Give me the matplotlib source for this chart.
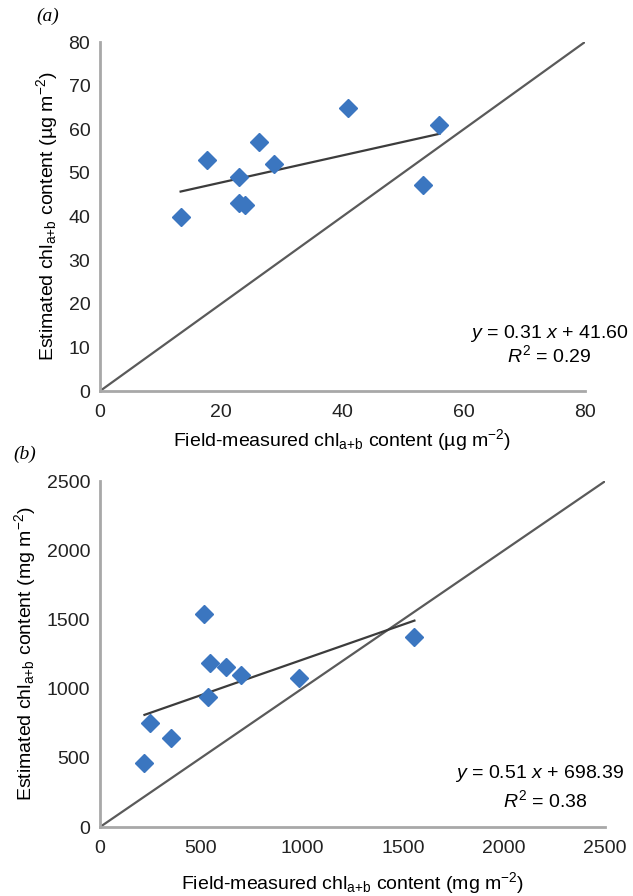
import matplotlib
matplotlib.use('Agg')
import matplotlib.pyplot as plt
import numpy as np

plt.rcParams['font.family'] = ['Liberation Sans', 'DejaVu Sans']
plt.rcParams['mathtext.fontset'] = 'custom'
plt.rcParams['mathtext.rm'] = 'Liberation Sans'
plt.rcParams['mathtext.it'] = 'Liberation Sans:italic'
plt.rcParams['font.size'] = 14

# Panel (a): chl a+b content in ug m-2
field_a = [13.3, 17.7, 22.9, 22.9, 24.0, 26.3, 28.7, 40.9, 53.3, 56.0]
est_a = [39.8, 53.0, 49.0, 43.0, 42.6, 57.0, 52.1, 64.9, 47.3, 60.9]
slope_a, icpt_a = 0.31, 41.60
r2_a = 0.29

# Panel (b): chl a+b content in mg m-2
field_b = [220, 246, 352, 516, 532, 544, 622, 696, 986, 1556]
est_b = [462, 754, 641, 1538, 938, 1184, 1156, 1100, 1077, 1371]
slope_b, icpt_b = 0.51, 698.39
r2_b = 0.38

blue = '#3b76c0'
line_col = '#5a5a5a'
spine_col = '#a8a8a8'

fig = plt.figure(figsize=(6.33, 8.96), dpi=100)
ax1 = fig.add_axes([0.158, 0.5636, 0.766, 0.3895])
ax2 = fig.add_axes([0.158, 0.077, 0.798, 0.386])


def style(ax, lim, ticks_x, ticks_y):
    ax.set_xlim(0, lim)
    ax.set_ylim(0, lim)
    ax.set_xticks(ticks_x)
    ax.set_yticks(ticks_y)
    for s in ['top', 'right']:
        ax.spines[s].set_visible(False)
    for s in ['left', 'bottom']:
        ax.spines[s].set_color(spine_col)
        ax.spines[s].set_linewidth(2)
    ax.tick_params(length=0, labelsize=14, colors='#222222')
    ax.tick_params(axis='y', pad=7)
    ax.tick_params(axis='x', pad=9)


def draw(ax, fx, ey, slope, icpt, lim):
    ax.plot([0, lim], [0, lim], color=line_col, lw=1.6, zorder=2)
    xs = np.array([min(fx), max(fx)])
    ax.plot(xs, slope * xs + icpt, color='#3c3c3c', lw=1.6, zorder=3)
    ax.plot(fx, ey, linestyle='none', marker='D', ms=9, color=blue,
            markeredgecolor=blue, zorder=4)


sub = r'chl$_{\mathrm{a{+}b}}$'

# (a)
style(ax1, 80, np.arange(0, 81, 20), np.arange(0, 81, 10))
draw(ax1, field_a, est_a, slope_a, icpt_a, 80)
ax1.set_xlabel('Field-measured ' + sub + r' content (µg m$^{-2}$)', labelpad=5)
ax1.set_ylabel('Estimated ' + sub + r' content (µg m$^{-2}$)', labelpad=6)
ax1.text(0.926, 0.165, r'$y$ = %.2f $x$ + %.2f' % (slope_a, icpt_a),
         transform=ax1.transAxes, ha='center', va='center', fontsize=14)
ax1.text(0.926, 0.102, r'$R^2$ = %.2f' % r2_a,
         transform=ax1.transAxes, ha='center', va='center', fontsize=14)

# (b)
style(ax2, 2500, np.arange(0, 2501, 500), np.arange(0, 2501, 500))
draw(ax2, field_b, est_b, slope_b, icpt_b, 2500)
ax2.set_xlabel('Field-measured ' + sub + r' content (mg m$^{-2}$)', labelpad=10)
ax2.set_ylabel('Estimated ' + sub + r' content (mg m$^{-2}$)', labelpad=6)
ax2.text(0.871, 0.155, r'$y$ = %.2f $x$ + %.2f' % (slope_b, icpt_b),
         transform=ax2.transAxes, ha='center', va='center', fontsize=14)
ax2.text(0.881, 0.078, r'$R^2$ = %.2f' % r2_b,
         transform=ax2.transAxes, ha='center', va='center', fontsize=14)

fig.text(48 / 633, 1 - 16 / 896, '(a)', family='Liberation Serif', style='italic',
         fontsize=14, ha='center', va='center')
fig.text(25 / 633, 1 - 454 / 896, '(b)', family='Liberation Serif', style='italic',
         fontsize=14, ha='center', va='center')

fig.savefig('out.png', dpi=100)
